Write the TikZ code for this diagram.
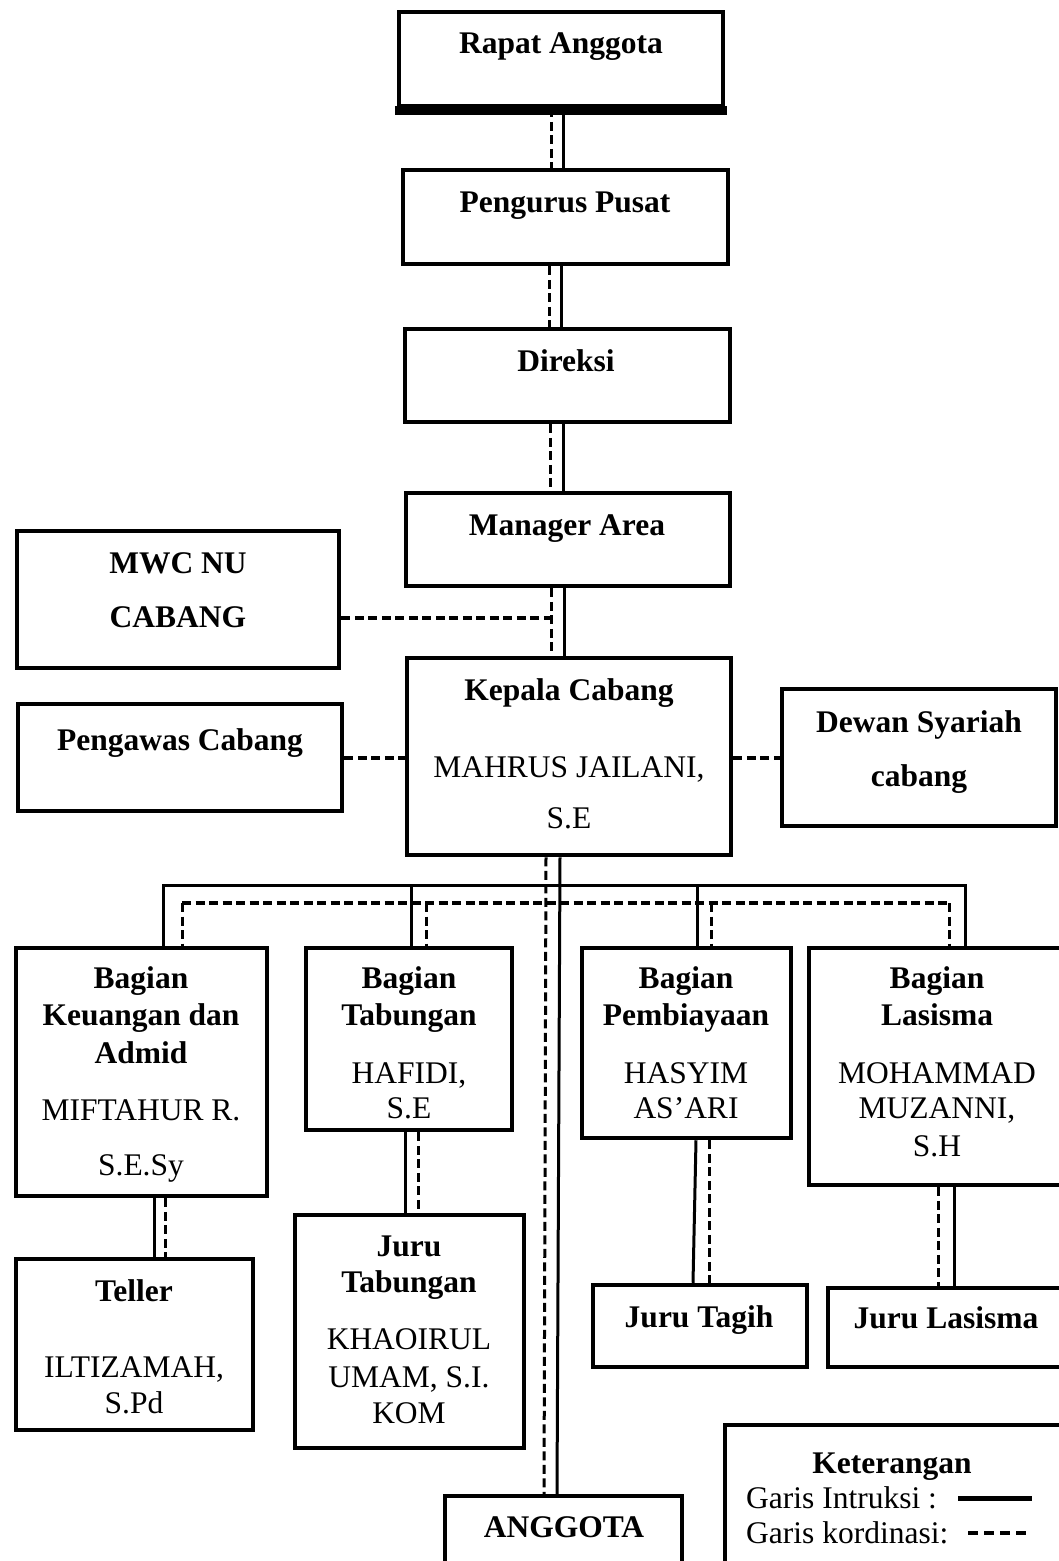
\documentclass[tikz,border=0pt]{standalone}
\usepackage{fontspec}
\setmainfont{Liberation Serif}
\usetikzlibrary{fit}
\begin{document}
\begin{tikzpicture}[x=1pt,y=-1pt,
  box/.style={draw, line width=4.5pt, inner sep=0pt},
  tn/.style={inner sep=0pt, anchor=base, font=\fontsize{31.5}{36}\selectfont},
  tb/.style={inner sep=0pt, anchor=base, font=\fontsize{31.5}{36}\selectfont\bfseries},
  instr/.style={line width=3pt},
  kord/.style={line width=3pt, dash pattern=on 9pt off 4.5pt},
  kordh/.style={line width=4pt, dash pattern=on 9pt off 4.5pt}]
\useasboundingbox (0,0) rectangle (1059,1561);
\clip (0,0) rectangle (1059,1561);
\fill[white] (0,0) rectangle (1059,1561);

% boxes
\node[box, fit={(399,12) (723,106)}] (ra) {};
\draw[line width=9pt] ([xshift=-2pt,yshift=-2.5pt]ra.south west) -- ([xshift=2pt,yshift=-2.5pt]ra.south east);
\node[box, fit={(403,170) (728,264)}] (pp) {};
\node[box, fit={(405,329) (730,422)}] (dk) {};
\node[box, fit={(406,493) (730,586)}] (ma) {};
\node[box, fit={(17,531) (339,668)}] (mwc) {};
\node[box, fit={(407,658) (731,855)}] (kc) {};
\node[box, fit={(18,704) (342,811)}] (pc) {};
\node[box, fit={(782,689) (1056,826)}] (ds) {};
\node[box, fit={(16,948) (267,1196)}] (bk) {};
\node[box, fit={(306,948) (512,1130)}] (bt) {};
\node[box, fit={(582,948) (791,1138)}] (bp) {};
\node[box, fit={(809,948) (1070,1185)}] (bl) {};
\node[box, fit={(16,1259) (253,1430)}] (te) {};
\node[box, fit={(295,1215) (524,1448)}] (jt) {};
\node[box, fit={(593,1285) (807,1367)}] (jg) {};
\node[box, fit={(828,1288) (1070,1367)}] (jl) {};
\node[box, fit={(445,1496) (682,1580)}] (an) {};
\node[box, fit={(725,1425) (1070,1580)}] (ket) {};

% texts
\node[tb] (ra-t) at (561,53) {Rapat Anggota};
\node[tb] (pp-t) at (565,212) {Pengurus Pusat};
\node[tb] (dk-t) at (566,371) {Direksi};
\node[tb] (ma-t) at (567,535) {Manager Area};
\node[tb] (mwc-t1) at (178,573) {MWC NU};
\node[tb] (mwc-t2) at (178,627) {CABANG};
\node[tb] (kc-t1) at (569,700) {Kepala Cabang};
\node[tn] (kc-t2) at (569,777) {MAHRUS JAILANI,};
\node[tn] (kc-t3) at (569,828) {S.E};
\node[tb] (pc-t) at (180,750) {Pengawas Cabang};
\node[tb] (ds-t1) at (919,732) {Dewan Syariah};
\node[tb] (ds-t2) at (919,786) {cabang};

\node[tb] (bk-t1) at (141,988) {Bagian};
\node[tb] (bk-t2) at (141,1025) {Keuangan dan};
\node[tb] (bk-t3) at (141,1063) {Admid};
\node[tn] (bk-t4) at (141,1120) {MIFTAHUR R.};
\node[tn] (bk-t5) at (141,1175) {S.E.Sy};

\node[tb] (bt-t1) at (409,988) {Bagian};
\node[tb] (bt-t2) at (409,1025) {Tabungan};
\node[tn] (bt-t3) at (409,1083) {HAFIDI,};
\node[tn] (bt-t4) at (409,1118) {S.E};

\node[tb] (bp-t1) at (686,988) {Bagian};
\node[tb] (bp-t2) at (686,1025) {Pembiayaan};
\node[tn] (bp-t3) at (686,1083) {HASYIM};
\node[tn] (bp-t4) at (686,1118) {AS’ARI};

\node[tb] (bl-t1) at (937,988) {Bagian};
\node[tb] (bl-t2) at (937,1025) {Lasisma};
\node[tn] (bl-t3) at (937,1083) {MOHAMMAD};
\node[tn] (bl-t4) at (937,1118) {MUZANNI,};
\node[tn] (bl-t5) at (937,1156) {S.H};

\node[tb] (te-t1) at (134,1301) {Teller};
\node[tn] (te-t2) at (134,1377) {ILTIZAMAH,};
\node[tn] (te-t3) at (134,1413) {S.Pd};

\node[tb] (jt-t1) at (409,1256) {Juru};
\node[tb] (jt-t2) at (409,1292) {Tabungan};
\node[tn] (jt-t3) at (409,1349) {KHAOIRUL};
\node[tn] (jt-t4) at (409,1387) {UMAM, S.I.};
\node[tn] (jt-t5) at (409,1423) {KOM};

\node[tb] (jg-t) at (699,1327) {Juru Tagih};
\node[tb] (jl-t) at (946,1328) {Juru Lasisma};
\node[tb] (an-t) at (564,1537) {ANGGOTA};

% legend
\node[tb] (ket-t) at (892,1473) {Keterangan};
\node[tn, anchor=base west] (ket-a) at (746,1508) {Garis Intruksi :};
\node[tn, anchor=base west] (ket-b) at (746,1543) {Garis kordinasi:};
\coordinate (la1) at (958,1498);
\coordinate (la2) at (1032,1498);
\draw[line width=5pt] (la1) -- (la2);
\coordinate (lb1) at (968,1533);
\coordinate (lb2) at (1027,1533);
\draw[line width=4.5pt, dash pattern=on 10pt off 6pt] (lb1) -- (lb2);

% top chain connectors
\coordinate (c1d) at (551,0); \coordinate (c1s) at (563,0);
\draw[kord] (ra.south -| c1d) -- (pp.north -| c1d);
\draw[instr] (ra.south -| c1s) -- (pp.north -| c1s);
\coordinate (c2d) at (549,0); \coordinate (c2s) at (561,0);
\draw[kord] (pp.south -| c2d) -- (dk.north -| c2d);
\draw[instr] (pp.south -| c2s) -- (dk.north -| c2s);
\coordinate (c3d) at (550,0); \coordinate (c3s) at (563,0);
\draw[kord] (dk.south -| c3d) -- (ma.north -| c3d);
\draw[instr] (dk.south -| c3s) -- (ma.north -| c3s);
\coordinate (c4d) at (551,0); \coordinate (c4s) at (564,0);
\draw[kord] (ma.south -| c4d) -- (kc.north -| c4d);
\draw[instr] (ma.south -| c4s) -- (kc.north -| c4s);

% side coordination lines
\coordinate (mw) at (551,618);
\draw[kordh] (mwc.east |- mw) -- (mw);
\coordinate (pk) at (0,758);
\draw[kordh] (pc.east |- pk) -- (kc.west |- pk);
\draw[kordh] (kc.east |- pk) -- (ds.west |- pk);

% Kepala Cabang to Anggota
\coordinate (ka1) at (546,0); \coordinate (ka2) at (544,0);
\coordinate (ks1) at (560,0); \coordinate (ks2) at (557,0);
\draw[kord] (kc.south -| ka1) -- (an.north -| ka2);
\draw[instr] (kc.south -| ks1) -- (an.north -| ks2);

% instruction bus
\coordinate (sb1) at (163,885); \coordinate (sb2) at (411,885);
\coordinate (sb3) at (697,885); \coordinate (sb4) at (965,885);
\draw[instr] (bk.north -| sb1) -- (sb1) -- (sb4) -- (bl.north -| sb4);
\draw[instr] (sb2) -- (bt.north -| sb2);
\draw[instr] (sb3) -- (bp.north -| sb3);

% coordination bus
\coordinate (db1) at (182,903); \coordinate (db2) at (426,903);
\coordinate (db3) at (711,903); \coordinate (db4) at (949,903);
\draw[kordh] (db1) -- (db4);
\draw[kord] (db1) -- (bk.north -| db1);
\draw[kord] (db2) -- (bt.north -| db2);
\draw[kord] (db3) -- (bp.north -| db3);
\draw[kord] (db4) -- (bl.north -| db4);

% lower connectors
\coordinate (l1s) at (154,0); \coordinate (l1d) at (165,0);
\draw[instr] (bk.south -| l1s) -- (te.north -| l1s);
\draw[kord] (bk.south -| l1d) -- (te.north -| l1d);
\coordinate (l2s) at (405,0); \coordinate (l2d) at (418,0);
\draw[instr] (bt.south -| l2s) -- (jt.north -| l2s);
\draw[kord] (bt.south -| l2d) -- (jt.north -| l2d);
\coordinate (l3s) at (696,0); \coordinate (l3t) at (693,0); \coordinate (l3d) at (709,0);
\draw[instr] (bp.south -| l3s) -- (jg.north -| l3t);
\draw[kord] (bp.south -| l3d) -- (jg.north -| l3d);
\coordinate (l4d) at (938,0); \coordinate (l4s) at (954,0);
\draw[kord] (bl.south -| l4d) -- (jl.north -| l4d);
\draw[instr] (bl.south -| l4s) -- (jl.north -| l4s);
\end{tikzpicture}
\end{document}
